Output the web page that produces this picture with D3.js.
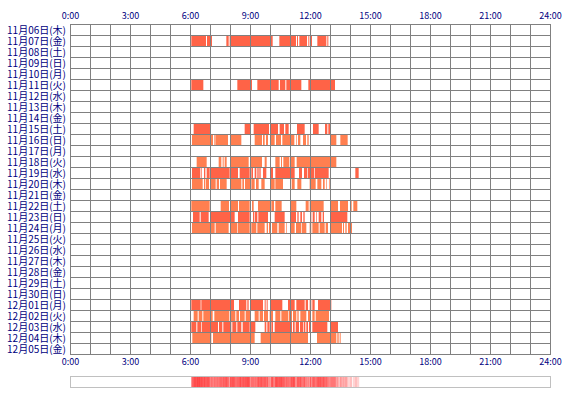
<!DOCTYPE html>
<html><head><meta charset="utf-8">
<script src="https://cdn.jsdelivr.net/npm/d3@7/dist/d3.min.js"></script>
<style>html,body{margin:0;padding:0;background:#fff;}svg{display:block;}</style>
</head><body>
<svg id="c" width="570" height="400"></svg>
<script>
// ---- data ----
const dayLabels = ["11月06日(木)","11月07日(金)","11月08日(土)","11月09日(日)","11月10日(月)","11月11日(火)","11月12日(水)","11月13日(木)","11月14日(金)","11月15日(土)","11月16日(日)","11月17日(月)","11月18日(火)","11月19日(水)","11月20日(木)","11月21日(金)","11月22日(土)","11月23日(日)","11月24日(月)","11月25日(火)","11月26日(水)","11月27日(木)","11月28日(金)","11月29日(土)","11月30日(日)","12月01日(月)","12月02日(火)","12月03日(水)","12月04日(木)","12月05日(金)"];
const tickLabels = ["0:00","3:00","6:00","9:00","12:00","15:00","18:00","21:00","24:00"];
const tickMinutes = [0,180,360,540,720,900,1080,1260,1440];
// activity segments, minutes of the day [start, end]
const nov07 = [[364,408],[411,426],[469,476],[479,608],[628,678],[681,684],[688,711],[715,718],[721,726],[742,769],[772,775]];
const nov11 = [[364,400],[502,546],[562,626],[630,646],[649,694],[715,795]];
const nov15 = [[371,421],[524,540],[551,597],[601,624],[629,642],[646,656],[681,704],[729,746],[765,772],[775,781]];
const nov16 = [[366,429],[432,434],[436,474],[481,514],[554,576],[579,584],[588,594],[602,614],[618,633],[637,673],[678,680],[684,691],[699,708],[712,716],[781,799],[811,833]];
const nov18 = [[380,410],[446,454],[458,461],[464,470],[480,536],[541,576],[584,590],[616,629],[633,636],[640,658],[662,674],[680,799]];
const nov19 = [[366,391],[394,396],[402,406],[410,419],[422,479],[481,504],[509,539],[544,549],[554,559],[562,566],[568,572],[579,589],[602,609],[616,674],[687,696],[702,712],[714,732],[734,776],[856,866]];
const nov20 = [[366,398],[402,405],[407,417],[422,437],[440,447],[450,470],[481,514],[517,522],[525,540],[544,554],[558,566],[574,584],[602,614],[616,639],[660,662],[665,674],[682,694],[719,737],[742,754],[759,764],[769,771],[777,779]];
const nov22 = [[364,419],[452,477],[481,504],[507,539],[546,551],[564,600],[604,612],[616,635],[662,679],[707,716],[719,761],[781,804],[810,834],[841,845],[850,862]];
const nov23 = [[369,389],[392,416],[422,494],[504,539],[549,552],[554,562],[565,594],[614,644],[662,678],[682,686],[691,696],[700,704],[720,724],[728,734],[738,740],[746,754],[758,762],[782,832]];
const nov24 = [[366,434],[437,476],[481,501],[503,539],[544,559],[562,584],[590,594],[597,600],[606,622],[626,644],[648,650],[662,674],[678,694],[696,709],[719,724],[727,746],[749,764],[767,774],[782,816],[819,822],[826,830],[834,846]];
const dec01 = [[364,392],[394,492],[507,529],[532,536],[541,579],[584,587],[590,593],[602,637],[654,674],[679,704],[707,714],[719,724],[727,734],[744,784]];
const dec02 = [[371,383],[386,397],[400,428],[433,478],[481,496],[499,507],[510,524],[527,541],[554,566],[569,579],[582,594],[599,609],[616,631],[634,654],[656,666],[669,679],[682,686],[691,709],[714,722],[727,734],[737,777]];
const dec03 = [[364,379],[382,394],[396,444],[447,457],[460,484],[487,499],[502,514],[518,539],[541,556],[584,589],[592,599],[604,609],[614,666],[669,674],[677,687],[690,699],[701,706],[709,714],[717,722],[727,772],[781,804]];
const dec04 = [[367,424],[429,554],[572,714],[741,799],[802,806],[809,812]];

const activity = new Map([
  ["11月07日(金)", nov07], ["11月11日(火)", nov11], ["11月15日(土)", nov15],
  ["11月16日(日)", nov16], ["11月18日(火)", nov18], ["11月19日(水)", nov19],
  ["11月20日(木)", nov20], ["11月22日(土)", nov22], ["11月23日(日)", nov23],
  ["11月24日(月)", nov24], ["12月01日(月)", dec01], ["12月02日(火)", dec02],
  ["12月03日(水)", dec03], ["12月04日(木)", dec04]
]);

// ---- layout ----
const L = 70, R = 550, T = 24, B = 354;
const svg = d3.select("#c");
const font = "'Noto Sans CJK JP', 'Noto Sans', sans-serif";
const x = d3.scaleLinear().domain([0, 1440]).range([L, R]);
const y = d3.scaleBand().domain(dayLabels).range([T, B]);
const colorFor = i => (i % 2 === 1 ? "#ff6347" : "#ff7f50");

// bars
const segs = [];
dayLabels.forEach((d, i) => {
  (activity.get(d) || []).forEach(s => segs.push({day: d, i, s: s[0], e: s[1]}));
});
svg.append("g").selectAll("rect").data(segs).join("rect")
  .attr("x", d => x(d.s)).attr("width", d => x(d.e) - x(d.s))
  .attr("y", d => y(d.day)).attr("height", y.bandwidth())
  .attr("fill", d => colorFor(d.i));

// grid
const grid = svg.append("g").attr("stroke", "#808080").attr("stroke-width", 1).attr("shape-rendering", "crispEdges");
grid.selectAll("line.v").data(d3.range(0, 1441, 60)).join("line").attr("class", "v")
  .attr("x1", d => Math.round(x(d)) + 0.5).attr("x2", d => Math.round(x(d)) + 0.5)
  .attr("y1", T).attr("y2", B + 1);
grid.selectAll("line.h").data(dayLabels.concat(["end"])).join("line").attr("class", "h")
  .attr("x1", L).attr("x2", R + 1)
  .attr("y1", (d, i) => T + i * y.bandwidth() + 0.5).attr("y2", (d, i) => T + i * y.bandwidth() + 0.5);

// day labels
svg.append("g").selectAll("text").data(dayLabels).join("text")
  .attr("x", L - 4).attr("y", d => y(d) + y.bandwidth() / 2 + 4)
  .attr("text-anchor", "end").attr("font-family", font).attr("font-size", 10)
  .attr("fill", "#000080").text(d => d);

// time axes (top & bottom)
const axisTop = d3.axisTop(x).tickValues(tickMinutes).tickFormat((d, i) => tickLabels[i]).tickSize(0).tickPadding(0);
const axisBottom = d3.axisBottom(x).tickValues(tickMinutes).tickFormat((d, i) => tickLabels[i]).tickSize(0).tickPadding(0);
const gt = svg.append("g").attr("transform", "translate(0,18.5)").call(axisTop);
const gb = svg.append("g").attr("transform", "translate(0,359)").call(axisBottom);
[gt, gb].forEach(g => {
  g.select(".domain").remove();
  g.selectAll("text").attr("font-family", font).attr("font-size", 9).attr("fill", "#000080");
});

// density strip
const binW = 3;
const bins = d3.range(0, 1440, binW).map(m => {
  let c = 0;
  activity.forEach(list => { if (list.some(s => s[0] <= m + binW / 2 && s[1] > m + binW / 2)) c++; });
  return {m, c};
});
const maxC = d3.max(bins, d => d.c);
const heat = d3.scalePow().exponent(0.55).domain([0, maxC]).range(["#ffffff", "#ff4545"]);
svg.append("rect").attr("x", L + 0.5).attr("y", 376.5).attr("width", R - L).attr("height", 11)
  .attr("fill", "#fff").attr("stroke", "#c0c0c0");
svg.append("g").selectAll("rect").data(bins.filter(d => d.c > 0)).join("rect")
  .attr("x", d => x(d.m)).attr("width", x(binW) - x(0) + 0.2)
  .attr("y", 377).attr("height", 10)
  .attr("fill", d => heat(d.c));
</script>
</body></html>
